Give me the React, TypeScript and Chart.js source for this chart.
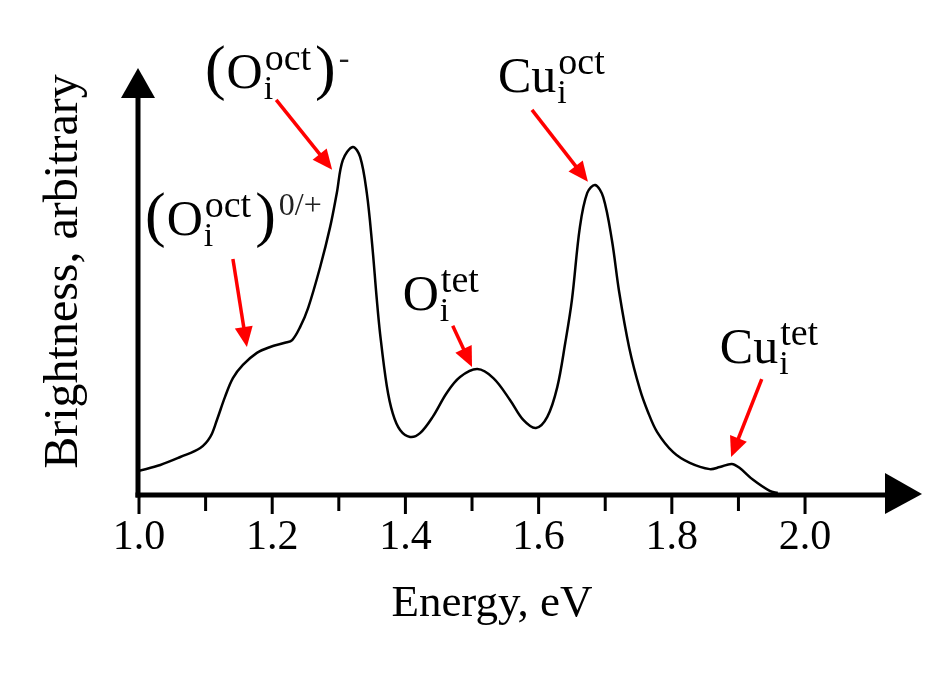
import React, { useEffect, useRef } from "react";
import { Chart, registerables } from "chart.js";

Chart.register(...registerables);

const FONT = "'Liberation Serif', 'Times New Roman', serif";

// Spectrum (energy in eV, brightness in arbitrary units, main peak = 100)
const energy = [
  1.0, 1.032, 1.062, 1.092, 1.107, 1.117, 1.129, 1.141, 1.156, 1.177, 1.197, 1.219, 1.23, 1.242,
  1.254, 1.272, 1.287, 1.297, 1.306, 1.321, 1.332, 1.342, 1.35, 1.357, 1.362, 1.372, 1.381, 1.392,
  1.407, 1.422, 1.441, 1.462, 1.482, 1.508, 1.532, 1.557, 1.577, 1.596, 1.613, 1.628, 1.64, 1.65,
  1.662, 1.673, 1.685, 1.697, 1.71, 1.721, 1.736, 1.752, 1.764, 1.778, 1.802, 1.827, 1.857, 1.872,
  1.89, 1.902, 1.922, 1.947, 1.959,
];
const brightness = [
  6.4, 8.1, 10.4, 13.0, 16.2, 21.1, 27.7, 33.2, 37.0, 40.5, 42.2, 43.4, 44.2, 48.0,
  53.5, 65.3, 76.9, 86.7, 96.2, 100, 97.1, 86.7, 72.0, 56.0, 46.0, 31.0, 23.0, 18.2,
  16.2, 17.3, 22.0, 28.9, 33.5, 35.8, 33.2, 26.9, 21.1, 18.8, 22.0, 30.6, 43.4, 55.8,
  76.9, 86.7, 89.0, 85.5, 73.1, 58.0, 42.0, 30.0, 23.5, 17.6, 11.8, 8.7, 6.9, 7.5,
  8.4, 7.2, 3.8, 0.6, 0,
];

const xTitle = "Energy, eV";
const yTitle = "Brightness, arbitrary";

// Annotations (peak assignments)
const labelBase = ["O", "O", "O", "Cu", "Cu"];
const labelSub = ["i", "i", "i", "i", "i"];
const labelSup = ["oct", "oct", "tet", "oct", "tet"];
const labelCharge = ["-", "0/+", "", "", ""];
const labelParen = [true, true, false, false, false];
const labelX = [1.099, 1.009, 1.396, 1.539, 1.872];
const labelY = [117.1, 74.6, 52.9, 115.9, 37.6];

const arrowFromX = [1.206, 1.141, 1.471, 1.59, 1.935];
const arrowFromY = [113.6, 67.6, 48.3, 110.7, 32.9];
const arrowToX = [1.29, 1.162, 1.5, 1.674, 1.889];
const arrowToY = [93.4, 42.2, 36.4, 89.9, 10.4];

function drawArrow(ctx: CanvasRenderingContext2D, x1: number, y1: number, x2: number, y2: number) {
  const ang = Math.atan2(y2 - y1, x2 - x1);
  const L = 20;
  const W = 9;
  const c = Math.cos(ang);
  const s = Math.sin(ang);
  const bx = x2 - L * c;
  const by = y2 - L * s;
  ctx.save();
  ctx.strokeStyle = "#ff0000";
  ctx.fillStyle = "#ff0000";
  ctx.lineWidth = 3.5;
  ctx.beginPath();
  ctx.moveTo(x1, y1);
  ctx.lineTo(bx + c * 2, by + s * 2);
  ctx.stroke();
  ctx.beginPath();
  ctx.moveTo(x2, y2);
  ctx.lineTo(bx + W * s, by - W * c);
  ctx.lineTo(bx - W * s, by + W * c);
  ctx.closePath();
  ctx.fill();
  ctx.restore();
}

function drawLabel(ctx: CanvasRenderingContext2D, x: number, y: number, i: number) {
  const set = (size: number) => {
    ctx.font = `${size}px ${FONT}`;
  };
  ctx.save();
  ctx.fillStyle = "#000";
  ctx.textBaseline = "alphabetic";
  ctx.textAlign = "left";
  let cx = x;
  if (labelParen[i]) {
    set(62);
    ctx.fillText("(", cx, y);
    cx += ctx.measureText("(").width + 1;
  }
  set(50);
  ctx.fillText(labelBase[i], cx, y);
  cx += ctx.measureText(labelBase[i]).width;
  set(34);
  ctx.fillText(labelSub[i], cx + 1, y + 11);
  const wSub = ctx.measureText(labelSub[i]).width;
  set(38);
  ctx.fillText(labelSup[i], cx + 2, y - 18);
  const wSup = ctx.measureText(labelSup[i]).width;
  cx += Math.max(wSub, wSup) + 2;
  if (labelParen[i]) {
    cx += 4;
    set(62);
    ctx.fillText(")", cx, y);
    cx += ctx.measureText(")").width;
  }
  if (labelCharge[i]) {
    set(32);
    ctx.fillStyle = "#222";
    ctx.fillText(labelCharge[i], cx + 3, y - 20);
  }
  ctx.restore();
}

const axesPlugin = {
  id: "arrowAxes",
  afterDatasetsDraw(chart: any) {
    const { ctx, chartArea } = chart;
    const xs = chart.scales.x;
    const ys = chart.scales.y;
    const ax = xs.getPixelForValue(1.0) - 1;
    const ay = ys.getPixelForValue(0) + 2;
    ctx.save();
    ctx.strokeStyle = "#000";
    ctx.fillStyle = "#000";
    // x axis
    ctx.lineWidth = 5;
    ctx.beginPath();
    ctx.moveTo(ax - 2.5, ay);
    ctx.lineTo(chartArea.right + 42, ay);
    ctx.stroke();
    ctx.beginPath();
    ctx.moveTo(chartArea.right + 77, ay - 1);
    ctx.lineTo(chartArea.right + 40, ay - 22);
    ctx.lineTo(chartArea.right + 40, ay + 19);
    ctx.closePath();
    ctx.fill();
    // y axis
    ctx.beginPath();
    ctx.moveTo(ax, ay + 2.5);
    ctx.lineTo(ax, chartArea.top + 46);
    ctx.stroke();
    ctx.beginPath();
    ctx.moveTo(ax, chartArea.top + 18);
    ctx.lineTo(ax - 17, chartArea.top + 48);
    ctx.lineTo(ax + 17, chartArea.top + 48);
    ctx.closePath();
    ctx.fill();
    // ticks
    ctx.lineWidth = 3;
    for (const t of xs.ticks) {
      const px = xs.getPixelForValue(t.value);
      const major = Math.round(t.value * 10) % 2 === 0;
      ctx.beginPath();
      ctx.moveTo(px, ay);
      ctx.lineTo(px, ay + (major ? 19 : 16));
      ctx.stroke();
    }
    ctx.restore();

    // annotations
    for (let i = 0; i < labelBase.length; i++) {
      drawArrow(
        ctx,
        xs.getPixelForValue(arrowFromX[i]),
        ys.getPixelForValue(arrowFromY[i]),
        xs.getPixelForValue(arrowToX[i]),
        ys.getPixelForValue(arrowToY[i])
      );
      drawLabel(ctx, xs.getPixelForValue(labelX[i]), ys.getPixelForValue(labelY[i]), i);
    }
  },
};

export default function App() {
  const ref = useRef<HTMLCanvasElement | null>(null);
  useEffect(() => {
    if (!ref.current) return;
    const chart = new Chart(ref.current, {
      type: "line",
      data: {
        datasets: [
          {
            data: energy.map((e, i) => ({ x: e, y: brightness[i] })),
            borderColor: "#000",
            borderWidth: 2.5,
            pointRadius: 0,
            fill: false,
            tension: 0.35,
          },
        ],
      },
      options: {
        animation: false,
        responsive: false,
        devicePixelRatio: 1,
        layout: { padding: { left: 20, right: 102, top: 50, bottom: 47 } },
        plugins: { legend: { display: false }, tooltip: { enabled: false } },
        scales: {
          x: {
            type: "linear",
            min: 1.0,
            max: 2.06,
            grid: { display: false, drawTicks: false },
            border: { display: false },
            ticks: {
              stepSize: 0.1,
              includeBounds: false,
              autoSkip: false,
              maxRotation: 0,
              padding: 23.5,
              color: "#000",
              font: { family: FONT, size: 42, lineHeight: 1.0 },
              callback: (v: any) => (Math.round(Number(v) * 10) % 2 === 0 ? Number(v).toFixed(1) : ""),
            },
            title: {
              display: true,
              text: xTitle,
              color: "#000",
              font: { family: FONT, size: 45, lineHeight: 1.0 },
              padding: { top: 0, bottom: 0 },
            },
          },
          y: {
            type: "linear",
            min: 0,
            max: 128,
            grid: { display: false, drawTicks: false },
            border: { display: false },
            ticks: { display: false },
            title: {
              display: true,
              text: yTitle,
              color: "#000",
              font: { family: FONT, size: 48 },
              padding: { top: 15.2, bottom: 46.2 },
            },
          },
        },
      },
      plugins: [axesPlugin],
    } as any);
    return () => chart.destroy();
  }, []);
  return (
    <div style={{ position: "fixed", left: 0, top: 0, width: 947, height: 674, background: "#fff" }}>
      <canvas ref={ref} width={947} height={674} style={{ display: "block" }} />
    </div>
  );
}
